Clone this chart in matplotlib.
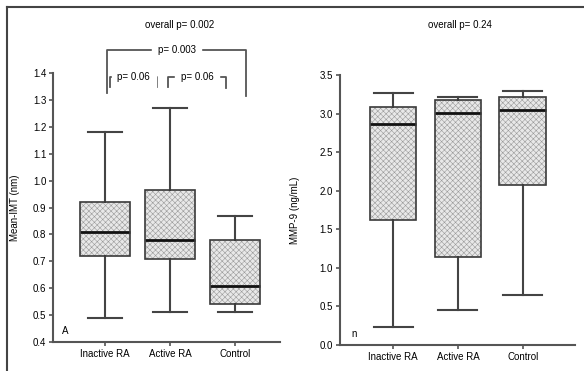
import matplotlib
matplotlib.use("Agg")
import matplotlib.pyplot as plt
from matplotlib.lines import Line2D
from matplotlib.patches import PathPatch

plt.rcParams['font.family'] = ['Liberation Sans Narrow', 'Liberation Sans', 'DejaVu Sans']
plt.rcParams['hatch.linewidth'] = 0.4

# data
groups = ['Inactive RA', 'Active RA', 'Control']

imt_whislo = [0.49, 0.51, 0.51]
imt_q1 = [0.72, 0.71, 0.54]
imt_med = [0.81, 0.78, 0.61]
imt_q3 = [0.92, 0.965, 0.78]
imt_whishi = [1.18, 1.27, 0.87]

mmp_whislo = [0.24, 0.45, 0.65]
mmp_q1 = [1.62, 1.14, 2.07]
mmp_med = [2.87, 3.01, 3.05]
mmp_q3 = [3.08, 3.18, 3.22]
mmp_whishi = [3.26, 3.22, 3.29]

imt_yticks = [0.4, 0.5, 0.6, 0.7, 0.8, 0.9, 1.0, 1.1, 1.2, 1.3, 1.4]
mmp_yticks = [0.0, 0.5, 1.0, 1.5, 2.0, 2.5, 3.0, 3.5]


def make_stats(lo, q1, med, q3, hi):
    return [dict(whislo=a, q1=b, med=c, q3=d, whishi=e, fliers=[])
            for a, b, c, d, e in zip(lo, q1, med, q3, hi)]


def draw_box(ax, stats, widths, capwidths):
    bp = ax.bxp(stats, positions=[1, 2, 3], widths=widths, capwidths=capwidths,
                patch_artist=True, showfliers=False,
                boxprops=dict(facecolor='#e8e8e8', edgecolor='#9a9a9a', hatch='xxxxxx', linewidth=0),
                medianprops=dict(color='#111111', linewidth=2),
                whiskerprops=dict(color='#444444', linewidth=1.5),
                capprops=dict(color='#444444', linewidth=1.5))
    for b in bp['boxes']:
        ax.add_patch(PathPatch(b.get_path(), fill=False, edgecolor='#3a3a3a', linewidth=1.2, zorder=3))
    return bp


def style_axes(ax):
    for s in ['top', 'right']:
        ax.spines[s].set_visible(False)
    for s in ['left', 'bottom']:
        ax.spines[s].set_color('#555555')
        ax.spines[s].set_linewidth(1.5)
    ax.tick_params(axis='both', labelsize=7, length=3, width=1.2, color='#555555', pad=2)
    ax.set_xticks([1, 2, 3])
    ax.set_xticklabels(groups)


fig = plt.figure(figsize=(5.84, 3.71), dpi=100)

# outer frame (top and left edges)
fig.add_artist(Line2D([0.012, 1.0], [0.981, 0.981], color='#444444', linewidth=1.5))
fig.add_artist(Line2D([0.012, 0.012], [0.0, 0.981], color='#444444', linewidth=1.5))

# panel titles
fig.text(0.308, 0.932, 'overall p= 0.002', fontsize=7, ha='center', va='center')
fig.text(0.788, 0.932, 'overall p= 0.24', fontsize=7, ha='center', va='center')

# panel A
ax1 = fig.add_axes([0.091, 0.078, 0.389, 0.725])
draw_box(ax1, make_stats(imt_whislo, imt_q1, imt_med, imt_q3, imt_whishi), 0.77, 0.52)
ax1.set_xlim(0.2, 3.69)
ax1.set_ylim(0.4, 1.4)
ax1.set_yticks(imt_yticks)
ax1.set_yticklabels([f'{v:.1f}' for v in imt_yticks])
style_axes(ax1)
ax1.set_ylabel('Mean-IMT (nm)', fontsize=7, labelpad=9)
ax1.text(0.04, 0.03, 'A', transform=ax1.transAxes, fontsize=7)

# significance brackets
ax1.plot([1.03, 1.03, 3.17, 3.17], [1.325, 1.485, 1.485, 1.315], color='#555555', lw=1.3, clip_on=False)
ax1.text(2.1, 1.485, 'p= 0.003', fontsize=7, ha='center', va='center',
         backgroundcolor='white', clip_on=False)
ax1.plot([1.08, 1.08, 1.8, 1.8], [1.35, 1.385, 1.385, 1.35], color='#555555', lw=1.3, clip_on=False)
ax1.text(1.44, 1.385, 'p= 0.06', fontsize=7, ha='center', va='center',
         backgroundcolor='white', clip_on=False)
ax1.plot([1.97, 1.97, 2.85, 2.85], [1.35, 1.385, 1.385, 1.345], color='#555555', lw=1.3, clip_on=False)
ax1.text(2.41, 1.385, 'p= 0.06', fontsize=7, ha='center', va='center',
         backgroundcolor='white', clip_on=False)

# panel n
ax2 = fig.add_axes([0.582, 0.070, 0.402, 0.728])
draw_box(ax2, make_stats(mmp_whislo, mmp_q1, mmp_med, mmp_q3, mmp_whishi), 0.72, 0.6)
ax2.set_xlim(0.18, 3.8)
ax2.set_ylim(0.0, 3.5)
ax2.set_yticks(mmp_yticks)
ax2.set_yticklabels([f'{v:.1f}' for v in mmp_yticks])
style_axes(ax2)
ax2.set_ylabel('MMP-9 (ng/mL)', fontsize=7, labelpad=14)
ax2.text(0.05, 0.03, 'n', transform=ax2.transAxes, fontsize=7)

fig.savefig('out.png', dpi=100)
